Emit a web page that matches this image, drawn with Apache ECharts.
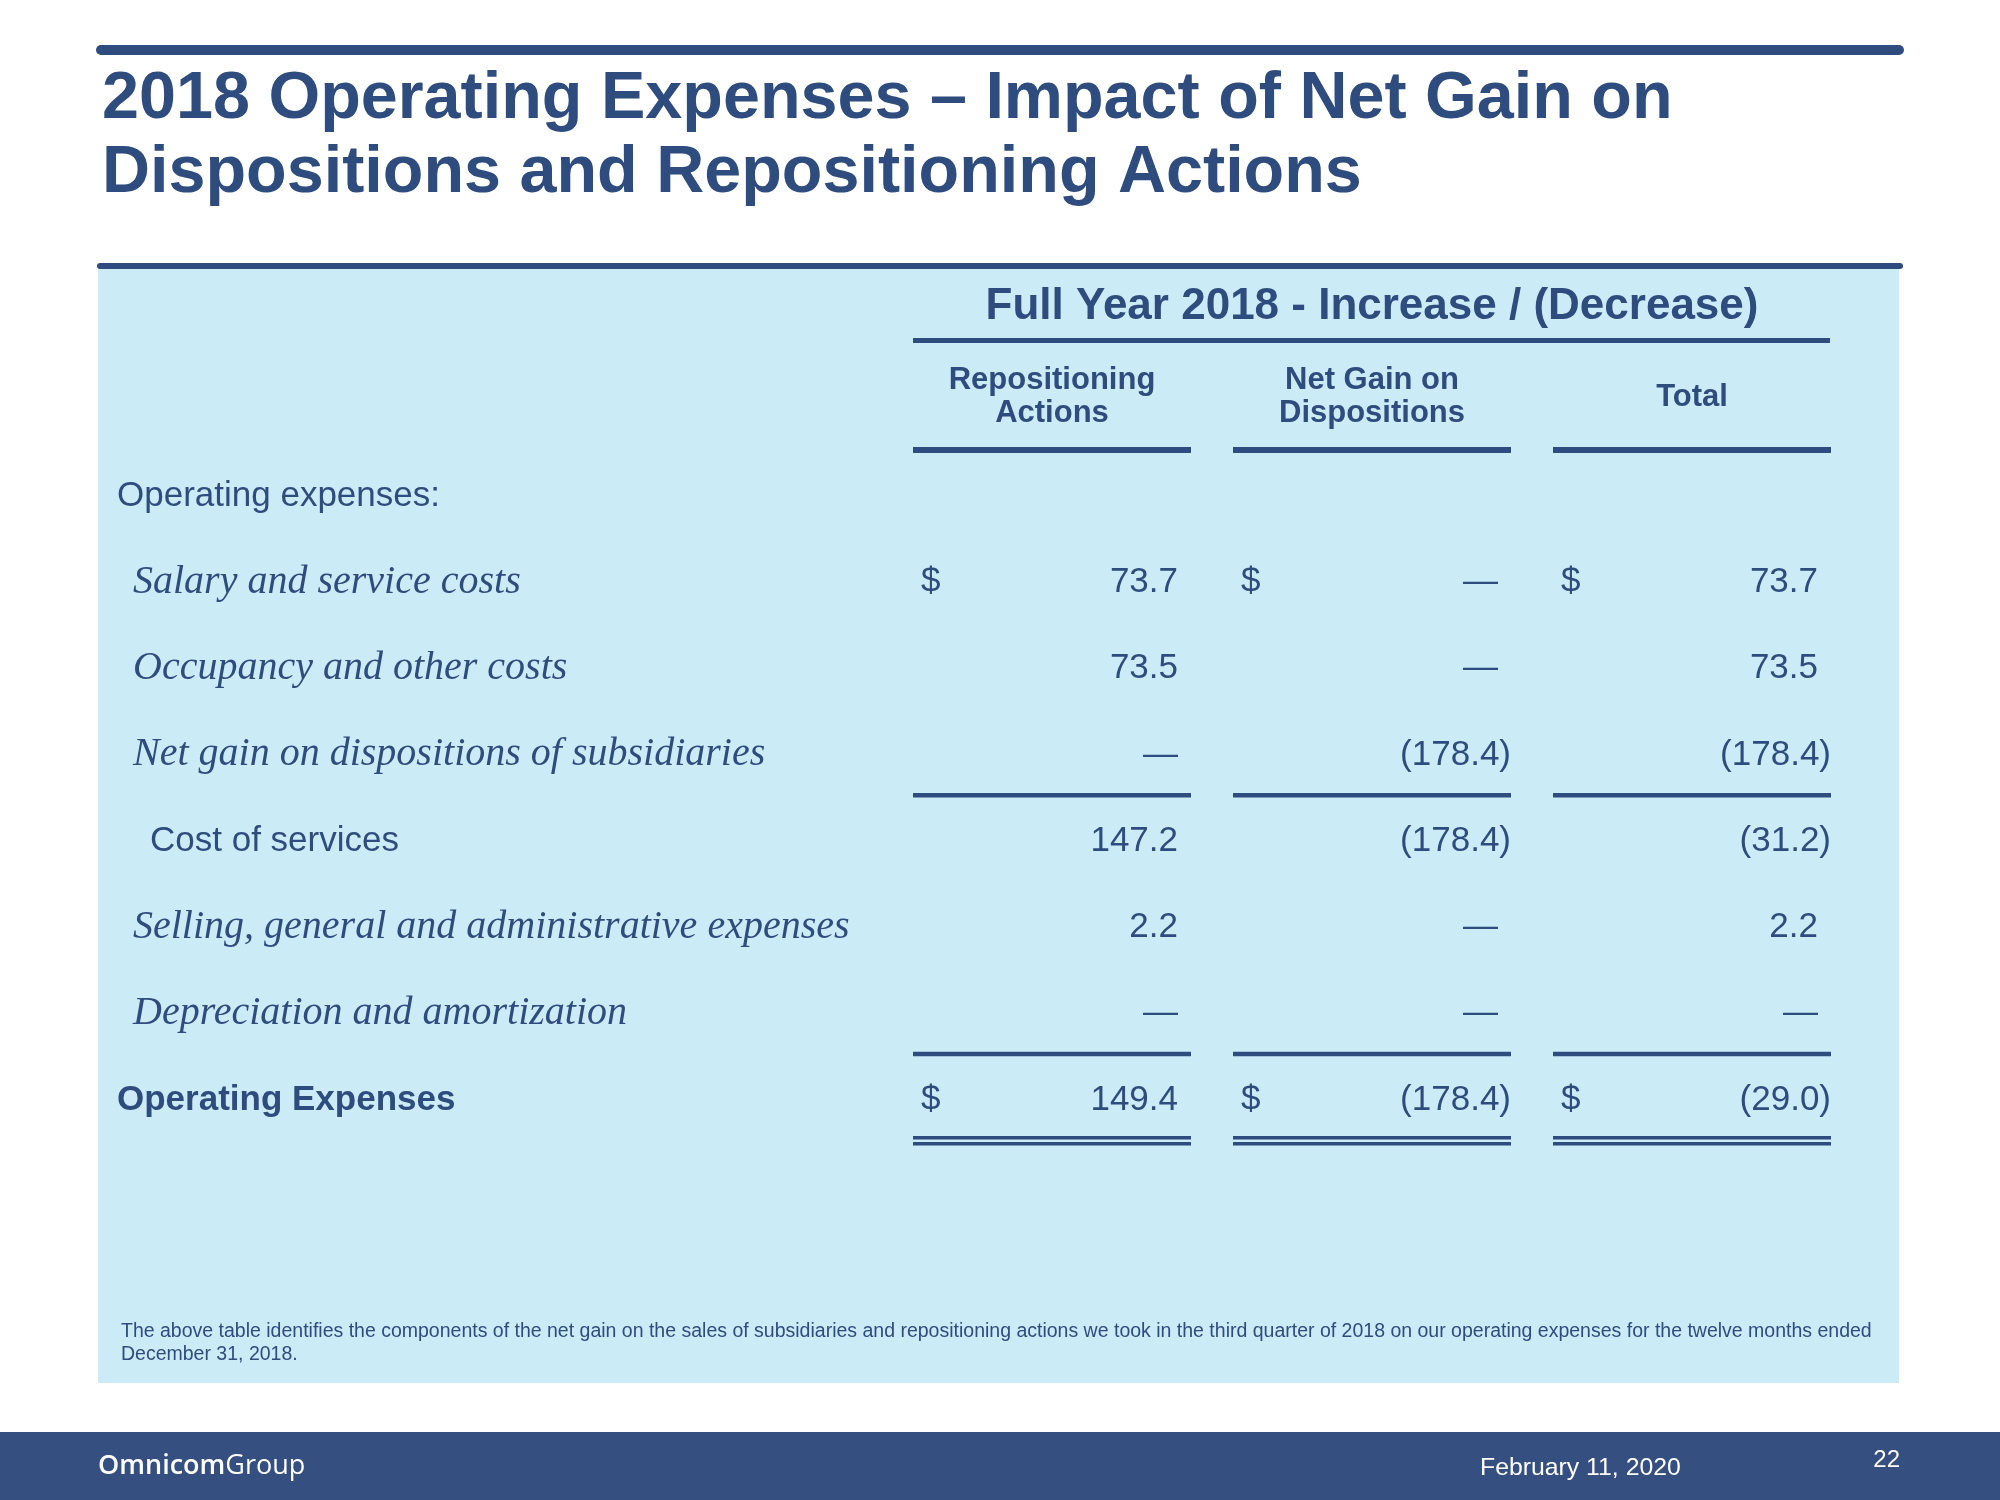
<!DOCTYPE html>
<html>
<head>
<meta charset="utf-8">
<title>2018 Operating Expenses</title>
<script src="https://cdn.jsdelivr.net/npm/echarts@6/dist/echarts.min.js"></script>
<style>
  html, body { margin: 0; padding: 0; background: #ffffff; }
  #chart { width: 2000px; height: 1500px; }
</style>
</head>
<body>
<div id="chart"></div>
<script>
// ---- data ----
const columnHeaders = ["Repositioning\nActions", "Net Gain on\nDispositions", "Total"];
const groupHeader = "Full Year 2018 - Increase / (Decrease)";
const rowLabels = [
  "Operating expenses:",
  "Salary and service costs",
  "Occupancy and other costs",
  "Net gain on dispositions of subsidiaries",
  "Cost of services",
  "Selling, general and administrative expenses",
  "Depreciation and amortization",
  "Operating Expenses"
];
// header = section title, item = detail line, subtotal, total
const rowKinds = ["header", "item", "item", "item", "subtotal", "item", "item", "total"];

// null = blank cell, 0 = dash
const repositioning = [null, 73.7, 73.5, 0, 147.2, 2.2, 0, 149.4];
const netGain       = [null, 0, 0, -178.4, -178.4, 0, 0, -178.4];
const totals        = [null, 73.7, 73.5, -178.4, -31.2, 2.2, 0, -29.0];
const dollarRows = [1, 7];
const singleRuleAfter = [3, 6];
const doubleRuleAfter = [7];

const footnote = "The above table identifies the components of the net gain on the sales of subsidiaries and repositioning actions we took in the third quarter of 2018 on our operating expenses for the twelve months ended\nDecember 31, 2018.";
const slideTitle = "2018 Operating Expenses \u2013 Impact of Net Gain on\nDispositions and Repositioning Actions";
const footerDate = "February 11, 2020";
const pageNo = "22";

// ---- look ----
const BLUE = "#2f4c7e";
const PANEL = "#cbebf7";
const FOOT = "#344f80";
const SANS = "'Liberation Sans', Arial, sans-serif";
const SERIF = "'Liberation Serif', Georgia, serif";
const HALF_COL = 139;   // half width of a value column
const PAREN = 13;       // room kept for a closing parenthesis
const RULE_SHIFT = -4;  // rules sit a little above the band edge

function fmt(v) {
  if (v === 0) return "\u2014";
  if (v < 0) return "(" + Math.abs(v).toFixed(1) + ")";
  return v.toFixed(1);
}

const columns = [repositioning, netGain, totals];
const cells = [];
columns.forEach((col, c) => {
  col.forEach((v, r) => {
    if (v !== null) cells.push([c, r, v, dollarRows.includes(r) ? 1 : 0]);
  });
});

const rules = [];
[0, 1, 2].forEach(c => {
  rules.push([c, 0, "head"]);
  singleRuleAfter.forEach(r => rules.push([c, r, "single"]));
  doubleRuleAfter.forEach(r => rules.push([c, r, "double"]));
});

const chart = echarts.init(document.getElementById("chart"), null, { renderer: "canvas" });

const option = {
  backgroundColor: "#ffffff",
  animation: false,
  graphic: [
    { type: "rect", shape: { x: 96, y: 45, width: 1808, height: 10, r: 5 }, style: { fill: BLUE } },
    {
      type: "text", left: 102, top: 63,
      style: { text: slideTitle, font: "bold 66.5px " + SANS, fill: BLUE, lineHeight: 74 }
    },
    { type: "rect", z: -10, shape: { x: 98, y: 266, width: 1801, height: 1117 }, style: { fill: PANEL } },
    { type: "rect", shape: { x: 97, y: 263, width: 1806, height: 6, r: 3 }, style: { fill: BLUE } },
    { type: "rect", shape: { x: 913, y: 338, width: 917, height: 5 }, style: { fill: BLUE } },
    {
      type: "text", left: 121, top: 1320,
      style: { text: footnote, font: "19.5px " + SANS, fill: BLUE, lineHeight: 23 }
    },
    { type: "rect", shape: { x: 0, y: 1432, width: 2000, height: 68 }, style: { fill: FOOT } },
    {
      type: "text", left: 98, top: 1453,
      style: {
        text: "{a|Omnicom}{b|Group}",
        rich: {
          a: { font: "600 27px 'Open Sans', sans-serif", fill: "#ffffff" },
          b: { font: "400 27px 'Open Sans', sans-serif", fill: "#ffffff" }
        }
      }
    },
    {
      type: "text", left: 1480, top: 1456,
      style: { text: footerDate, font: "24.8px " + SANS, fill: "#ffffff" }
    },
    {
      type: "text", right: 100, top: 1448,
      style: { text: pageNo, font: "24px " + SANS, fill: "#ffffff" }
    }
  ],
  grid: { left: 892, width: 960, top: 453, height: 690 },
  xAxis: {
    type: "category",
    position: "top",
    data: columnHeaders,
    name: groupHeader,
    nameLocation: "middle",
    nameGap: 146,
    nameTextStyle: { fontFamily: SANS, fontWeight: "bold", fontSize: 44, color: BLUE, verticalAlign: "middle" },
    axisLine: { show: false },
    axisTick: { show: false },
    splitLine: { show: false },
    axisLabel: {
      interval: 0,
      margin: 56,
      verticalAlign: "middle",
      fontFamily: SANS,
      fontWeight: "bold",
      fontSize: 31,
      lineHeight: 33,
      color: BLUE
    }
  },
  yAxis: {
    type: "category",
    inverse: true,
    data: rowLabels,
    axisLine: { show: false },
    axisTick: { show: false },
    splitLine: { show: false },
    axisLabel: {
      interval: 0,
      align: "left",
      margin: 775,
      formatter: (value, idx) => "{" + rowKinds[idx] + "|" + value + "}",
      rich: {
        header: { fontFamily: SANS, fontSize: 35, color: BLUE },
        item: { fontFamily: SERIF, fontStyle: "italic", fontSize: 40, color: BLUE, padding: [0, 0, 0, 16] },
        subtotal: { fontFamily: SANS, fontSize: 35, color: BLUE, padding: [0, 0, 0, 33] },
        total: { fontFamily: SANS, fontWeight: "bold", fontSize: 35, color: BLUE }
      }
    }
  },
  series: [
    {
      name: "values",
      type: "custom",
      data: cells,
      renderItem: (params, api) => {
        const pt = api.coord([api.value(0), api.value(1)]);
        const v = api.value(2);
        const children = [{
          type: "text",
          x: pt[0] + HALF_COL - (v < 0 ? 0 : PAREN),
          y: pt[1],
          style: { text: fmt(v), font: "35px " + SANS, fill: BLUE, align: "right", verticalAlign: "middle" }
        }];
        if (api.value(3)) {
          children.push({
            type: "text",
            x: pt[0] - HALF_COL + 8,
            y: pt[1],
            style: { text: "$", font: "35px " + SANS, fill: BLUE, align: "left", verticalAlign: "middle" }
          });
        }
        return { type: "group", children };
      }
    },
    {
      name: "rules",
      type: "custom",
      data: rules,
      renderItem: (params, api) => {
        const pt = api.coord([api.value(0), api.value(1)]);
        const h = api.size([0, 1])[1];
        const kind = rules[params.dataIndex][2];
        const x = pt[0] - HALF_COL, w = HALF_COL * 2;
        const style = { fill: BLUE };
        if (kind === "head") {
          return { type: "rect", shape: { x, y: pt[1] - h / 2 - 2 + RULE_SHIFT, width: w, height: 6 }, style };
        }
        const yb = pt[1] + h / 2 + RULE_SHIFT;
        if (kind === "single") {
          return { type: "rect", shape: { x, y: yb - 1, width: w, height: 4.5 }, style };
        }
        return {
          type: "group",
          children: [
            { type: "rect", shape: { x, y: yb - 3, width: w, height: 3.5 }, style },
            { type: "rect", shape: { x, y: yb + 3, width: w, height: 3.5 }, style }
          ]
        };
      }
    }
  ]
};

chart.setOption(option);
window.addEventListener("resize", () => chart.resize());
</script>
</body>
</html>
